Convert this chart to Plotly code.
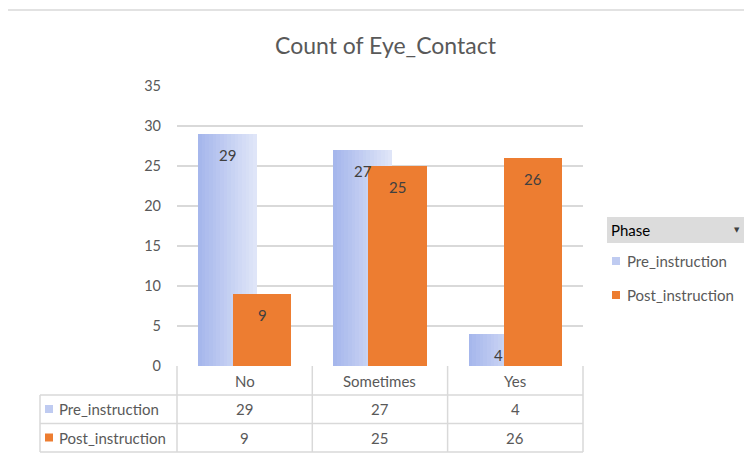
import plotly.graph_objects as go

categories = ["No", "Sometimes", "Yes"]
series_names = ["Pre_instruction", "Post_instruction"]
pre_values = [29, 27, 4]
post_values = [9, 25, 26]
y_ticks = [0, 5, 10, 15, 20, 25, 30, 35]
title_text = "Count of Eye_Contact"
legend_title = "Phase"

FONT = "Lato"
TXT = "#595959"
GRID = "#d9d9d9"
ORANGE = "#ed7d31"
PRE_LEFT = (166, 183, 236)
PRE_RIGHT = (223, 229, 248)

W, H = 752, 456
OFF = 8  # page body margin of the browser
L, R, T, B = 177, 583, 86, 366  # plot area in screen pixels


def px(x):
    return (x - L) / (R - L)


def py(y):
    return (B - y) / (B - T)


fig = go.Figure()

bar_w = 0.433
pre_off = -0.344
post_off = -0.087
unit_px = (R - L) / 3.0
N = 16
sw = bar_w / N
for i in range(N):
    t = i / (N - 1)
    c = tuple(round(PRE_LEFT[k] + (PRE_RIGHT[k] - PRE_LEFT[k]) * t) for k in range(3))
    fig.add_trace(go.Bar(
        x=categories, y=pre_values, offset=pre_off + i * sw, width=sw * 1.08 if i < N - 1 else sw,
        marker=dict(color="rgb(%d,%d,%d)" % c, line=dict(width=0)),
        name=series_names[0], showlegend=False, hoverinfo="skip"))

fig.add_trace(go.Bar(
    x=categories, y=post_values, offset=post_off, width=bar_w, name=series_names[1],
    marker=dict(color=ORANGE, line=dict(width=0)), showlegend=False))

shapes = []
annotations = []

# data labels (inside end)
lab_font = dict(family=FONT, size=15, color="#404040")
for vals, off in [(pre_values, pre_off), (post_values, post_off)]:
    for cat, v in zip(categories, vals):
        annotations.append(dict(text=str(v), x=cat, y=v, xref="x", yref="y",
                                xshift=(off + bar_w / 2) * unit_px, yshift=-21,
                                showarrow=False, xanchor="center", yanchor="middle", font=lab_font))

# outer chart border
shapes.append(dict(type="rect", xref="paper", yref="paper",
                   x0=px(5), x1=px(770), y0=py(10), y1=py(480),
                   line=dict(color="#d9d9d9", width=1.5), layer="below"))

# data table lines
cols = [177, 312.3, 447.6, 583]
for xc in cols:
    shapes.append(dict(type="line", xref="paper", yref="paper",
                       x0=px(xc), x1=px(xc), y0=py(366), y1=py(452),
                       line=dict(color=GRID, width=1.5)))
shapes.append(dict(type="line", xref="paper", yref="paper",
                   x0=px(40), x1=px(40), y0=py(395), y1=py(452),
                   line=dict(color=GRID, width=1.5)))
for yr in [395, 423.5, 452]:
    shapes.append(dict(type="line", xref="paper", yref="paper",
                       x0=px(40), x1=px(583), y0=py(yr), y1=py(yr),
                       line=dict(color=GRID, width=1.5)))

row_centers = [409, 437.5]
cat_center_y = 381
series_vals = [pre_values, post_values]
swatch_cols = ["rgb(191,203,241)", ORANGE]
tfont = dict(family=FONT, size=15, color=TXT)
for j, cat in enumerate(categories):
    cx = (cols[j] + cols[j + 1]) / 2
    annotations.append(dict(text=cat, x=px(cx), y=py(cat_center_y), xref="paper", yref="paper",
                            showarrow=False, xanchor="center", yanchor="middle", font=tfont))
    for r in range(2):
        annotations.append(dict(text=str(series_vals[r][j]), x=px(cx), y=py(row_centers[r]),
                                xref="paper", yref="paper", showarrow=False,
                                xanchor="center", yanchor="middle", font=tfont))
for r in range(2):
    shapes.append(dict(type="rect", xref="paper", yref="paper",
                       x0=px(45), x1=px(53), y0=py(row_centers[r] - 4), y1=py(row_centers[r] + 4),
                       fillcolor=swatch_cols[r], line=dict(width=0)))
    annotations.append(dict(text=series_names[r], x=px(57), y=py(row_centers[r]),
                            xref="paper", yref="paper", showarrow=False,
                            xanchor="left", yanchor="middle", font=tfont))

# custom legend
shapes.append(dict(type="rect", xref="paper", yref="paper",
                   x0=px(607), x1=px(750), y0=py(217), y1=py(243),
                   fillcolor="#dcdcdc", line=dict(width=0)))
annotations.append(dict(text=legend_title, x=px(609), y=py(230), xref="paper", yref="paper",
                        showarrow=False, xanchor="left", yanchor="middle",
                        font=dict(family=FONT, size=15, color="#000000")))
annotations.append(dict(text="▼", x=px(737), y=py(230), xref="paper", yref="paper",
                        showarrow=False, xanchor="center", yanchor="middle",
                        font=dict(family="DejaVu Sans", size=7, color="#404040")))
leg_y = [261, 295]
for r in range(2):
    shapes.append(dict(type="rect", xref="paper", yref="paper",
                       x0=px(612), x1=px(620), y0=py(leg_y[r] - 4), y1=py(leg_y[r] + 4),
                       fillcolor=swatch_cols[r], line=dict(width=0)))
    annotations.append(dict(text=series_names[r], x=px(625), y=py(leg_y[r]),
                            xref="paper", yref="paper", showarrow=False,
                            xanchor="left", yanchor="middle", font=tfont))

annotations.append(dict(text=title_text, x=px(386), y=py(45), xref="paper", yref="paper",
                        showarrow=False, xanchor="center", yanchor="middle",
                        font=dict(family=FONT, size=23, color=TXT)))

fig.update_layout(
    width=W, height=H,
    margin=dict(l=L - OFF, r=W - R + OFF, t=T - OFF, b=H - B + OFF),
    paper_bgcolor="white", plot_bgcolor="white",
    barmode="overlay", bargap=0,
    showlegend=False,
    shapes=shapes, annotations=annotations,
    font=dict(family=FONT, color=TXT),
)
fig.update_xaxes(showticklabels=False, showgrid=False, ticks="", range=[-0.5, 2.5],
                 showline=False, zeroline=False, fixedrange=True)
fig.update_yaxes(range=[0, 35], tickvals=y_ticks, showgrid=True, gridcolor=GRID, gridwidth=1.5,
                 zeroline=False, showline=False, ticks="", ticklabelstandoff=15,
                 tickfont=dict(family=FONT, size=14.5, color=TXT), fixedrange=True)

fig.write_html("out.html")
